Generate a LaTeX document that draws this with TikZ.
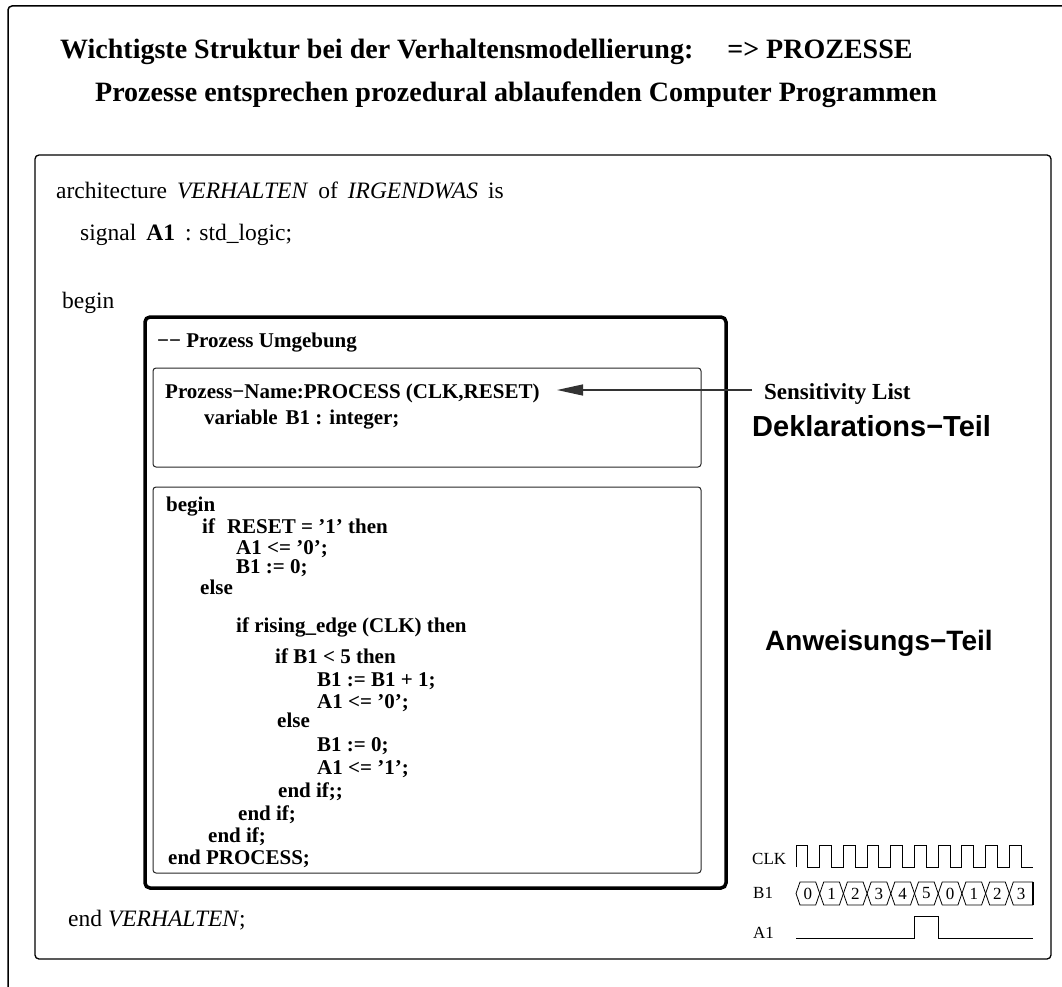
\documentclass[tikz,border=0pt]{standalone}
\usepackage{fontspec}
\setmainfont{Liberation Serif}
\newfontfamily\arialf{Liberation Sans}
\usetikzlibrary{arrows.meta}
\newcommand{\setfs}[1]{\fontsize{#1}{#1}\selectfont}
\begin{document}
\begin{tikzpicture}[x=1pt,y=-1pt,
  txt/.style={anchor=base west, inner sep=0pt, font=\setfs{23.5}},
  code/.style={anchor=base west, inner sep=0pt, font=\setfs{21}\bfseries},
  ttl/.style={anchor=base west, inner sep=0pt, font=\setfs{28}\bfseries},
  big/.style={anchor=base west, inner sep=0pt, font=\arialf\setfs{28}\bfseries},
  wlab/.style={anchor=base west, inner sep=0pt, font=\setfs{17}},
  wave/.style={line width=1pt},
  thinbox/.style={line width=1pt, rounded corners=3pt, draw=black!85},
  archbox/.style={line width=1.3pt, rounded corners=4pt},
  procbox/.style={line width=3.5pt, rounded corners=5pt}]
\useasboundingbox (0,0) rectangle (1062,987);
% outer frame
\draw[line width=1.5pt, rounded corners=4pt] (8,987) -- (8,6) -- (1062,6);
% titles
\node[ttl] (t1) at (60,59) {Wichtigste Struktur bei der Verhaltensmodellierung:\hspace{34pt}=> PROZESSE};
\node[ttl] (t2) at (95,102) {Prozesse entsprechen prozedural ablaufenden Computer Programmen};
% architecture box
\draw[archbox] (35,155) rectangle (1051,959);
\node[txt] (arch) at (56,198) {architecture\hspace{10pt}\textit{VERHALTEN}\hspace{10pt}of\hspace{10pt}\textit{IRGENDWAS}\hspace{10pt}is};
\node[txt] (sig) at (80,240) {signal\hspace{10pt}\textbf{A1}\hspace{10pt}: std\_logic;};
\node[txt] (beg) at (62,308) {begin};
\node[txt] (endv) at (68,926) {end \textit{VERHALTEN};};
% process box
\draw[procbox] (145,317) rectangle (726,888);
\draw[thinbox] (153,368) rectangle (701,467);
\draw[thinbox] (153,487) rectangle (701,873);
\node[code] (pu) at (157,347) {−− Prozess Umgebung};
\node[code] (pn) at (165,398) {Prozess−Name:PROCESS (CLK,RESET)};
\node[code] (var) at (204,424) {variable\hspace{8pt}B1 : integer;};
% sensitivity
\node[code, font=\setfs{23}\bfseries] (sens) at (764,399) {Sensitivity List};
\coordinate (astart) at (752,390);
\coordinate (atip) at (557,390);
\draw[line width=1.3pt, draw=black!80, -{Triangle[length=26pt,width=11pt]}] (astart) -- (atip);
\node[big, font=\arialf\setfs{29}\bfseries] (dekl) at (752,436) {Deklarations−Teil};
\node[big] (anw) at (765,650) {Anweisungs−Teil};
% code lines
\node[code] (c1) at (166,511) {begin};
\node[code] (c2) at (202,533) {if\hspace{12pt}RESET = ’1’ then};
\node[code] (c3) at (236,554) {A1 <= ’0’;};
\node[code] (c4) at (236,573) {B1 := 0;};
\node[code] (c5) at (200,594) {else};
\node[code] (c6) at (236,632) {if rising\_edge (CLK) then};
\node[code] (c7) at (275,663) {if B1 < 5 then};
\node[code] (c8) at (317,686) {B1 := B1 + 1;};
\node[code] (c9) at (317,708) {A1 <= ’0’;};
\node[code] (c10) at (277,727) {else};
\node[code] (c11) at (317,751) {B1 := 0;};
\node[code] (c12) at (317,774) {A1 <= ’1’;};
\node[code] (c13) at (278,797) {end if;;};
\node[code] (c14) at (238,820) {end if;};
\node[code] (c15) at (208,842) {end if;};
\node[code] (c16) at (168,864) {end PROCESS;};
% waveforms
\node[wlab] (clk) at (752,864) {CLK};
\node[wlab] (b1) at (753,898) {B1};
\node[wlab] (a1) at (753,938) {A1};
\def\per{23.7}
\draw[wave] (796,867) \foreach \k in {0,...,9} {
   -- ({796+\k*\per},845) -- ({796+\k*\per+\per/2},845) -- ({796+\k*\per+\per/2},867) -- ({796+(\k+1)*\per},867)};
\foreach \k/\v in {0/0,1/1,2/2,3/3,4/4,5/5,6/0,7/1,8/2} {
  \draw[line width=0.8pt] ({796+\k*\per},893.5) -- ({796+\k*\per+4},882) -- ({796+(\k+1)*\per-4},882) -- ({796+(\k+1)*\per},893.5) -- ({796+(\k+1)*\per-4},905) -- ({796+\k*\per+4},905) -- cycle;
  \node[font=\setfs{17}, inner sep=0pt] at ({796+\k*\per+\per/2},893.5) {\v};
}
\draw[line width=0.8pt] (1033,882) -- ({796+9*\per+4},882) -- ({796+9*\per},893.5) -- ({796+9*\per+4},905) -- (1033,905);
\draw[line width=1.3pt] (1033,882) -- (1033,905);
\node[font=\setfs{17}, inner sep=0pt] at ({796+9.5*\per},893.5) {3};
\draw[wave] (796,938) -- (914.5,938) -- (914.5,916) -- (938.2,916) -- (938.2,938) -- (1033,938);
\end{tikzpicture}
\end{document}
